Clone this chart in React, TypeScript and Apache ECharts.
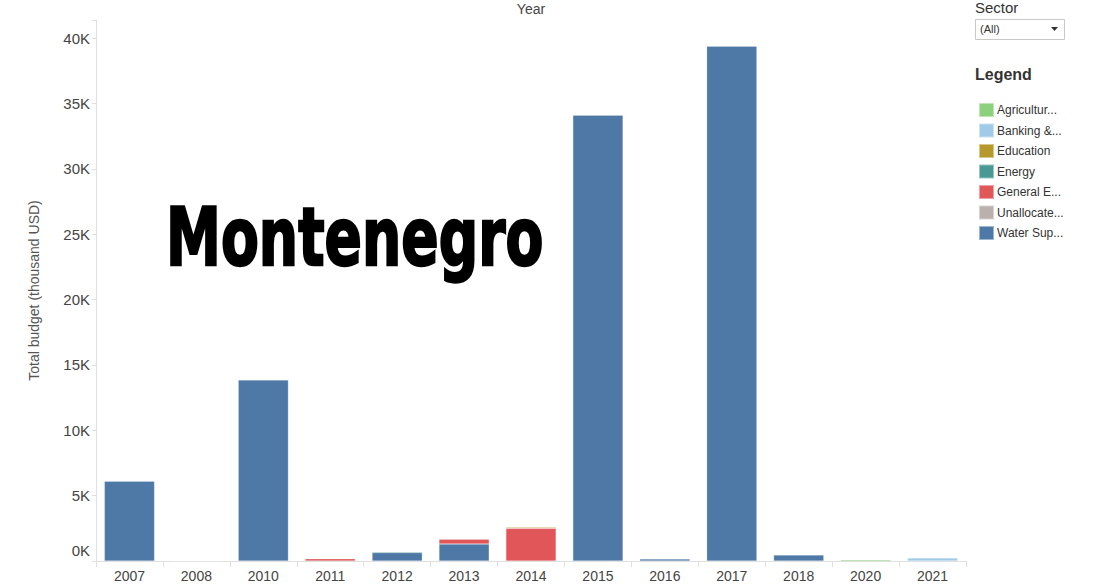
import React, { useEffect, useRef } from "react";
import * as echarts from "echarts";

const years = ["2007", "2008", "2010", "2011", "2012", "2013", "2014", "2015", "2016", "2017", "2018", "2020", "2021"];
const sectors = [
  "Agriculture, Forestry, Fishing",
  "Banking & Financial Services",
  "Education",
  "Energy",
  "General Environment Protection",
  "Unallocated / Unspecified",
  "Water Supply & Sanitation",
];
const sectorLabels = ["Agricultur...", "Banking &...", "Education", "Energy", "General E...", "Unallocate...", "Water Sup..."];
const sectorColors = ["#8CD17D", "#A0CBE8", "#B6992D", "#499894", "#E15759", "#BAB0AC", "#4E79A7"];

const agriculture = [0, 0, 0, 0, 0, 0, 0, 0, 0, 0, 0, 100, 0];
const banking = [0, 0, 0, 0, 0, 0, 0, 0, 0, 0, 0, 0, 230];
const education = [0, 0, 0, 0, 0, 0, 80, 0, 0, 0, 0, 0, 0];
const energy = [0, 0, 0, 0, 70, 0, 0, 0, 0, 0, 0, 0, 0];
const generalEnv = [0, 0, 0, 170, 0, 360, 2500, 0, 0, 0, 0, 0, 0];
const unallocated = [0, 5, 0, 0, 0, 0, 0, 0, 0, 0, 0, 0, 0];
const waterSupply = [6100, 0, 13850, 0, 640, 1300, 0, 34120, 160, 39400, 460, 0, 0];

const seriesValues = [agriculture, banking, education, energy, generalEnv, unallocated, waterSupply];

export default function App() {
  const ref = useRef<HTMLDivElement>(null);
  useEffect(() => {
    if (!ref.current) return;
    const chart = echarts.init(ref.current, undefined, { renderer: "svg" });
    // stacking order: Water at bottom, Agriculture on top
    const order = [6, 5, 4, 3, 2, 1, 0];
    const series = order.map((i) => ({
      name: sectors[i],
      type: "bar",
      stack: "total",
      barWidth: "75%",
      data: seriesValues[i].map((v) => (v === 0 ? null : v)),
      itemStyle: { color: sectorColors[i], borderColor: "rgba(255,255,255,0.45)", borderWidth: 0.5 },
    }));
    chart.setOption({
      animation: false,
      textStyle: { fontFamily: "Arial, 'Liberation Sans', sans-serif" },
      grid: { left: 96, right: 136, top: 20, bottom: 27, outerBoundsMode: "none", containLabel: false },
      legend: {
        data: sectors,
        orient: "vertical",
        left: 973,
        top: 97,
        itemWidth: 15,
        itemHeight: 14,
        itemGap: 4.5,
        icon: "rect",
        formatter: (name: string) => sectorLabels[sectors.indexOf(name)],
        textStyle: { fontSize: 12, color: "#333", padding: [0, 0, 0, -2] },
        selectedMode: false,
      },
      xAxis: {
        type: "category",
        data: years,
        position: "bottom",
        axisLine: { lineStyle: { color: "#e0e0e0" } },
        axisTick: { show: true, length: 6, lineStyle: { color: "#e0e0e0" } },
        axisLabel: { fontSize: 14, color: "#444", margin: 8 },
      },
      yAxis: {
        type: "value",
        min: 0,
        max: 41400,
        interval: 5000,
        name: "Total budget (thousand USD)",
        nameLocation: "middle",
        nameGap: 55,
        nameTextStyle: { fontSize: 14, color: "#555" },
        splitLine: { show: false },
        axisLine: { show: true, lineStyle: { color: "#e0e0e0" } },
        axisTick: { show: true, length: 4, lineStyle: { color: "#e0e0e0" } },
        axisLabel: {
          fontSize: 15,
          color: "#444",
          margin: 6,
          formatter: (v: number) => {
            if (v % 5000 !== 0) return "";
            if (v === 0) return "{z|0K}";
            return v / 1000 + "K";
          },
          rich: { z: { fontSize: 15, color: "#444", padding: [0, 0, 21, 0] } },
        },
      },
      graphic: [
        { type: "text", x: 531, y: 2, style: { text: "Year", font: "14px Arial, 'Liberation Sans', sans-serif", fill: "#444", textAlign: "center" } },
        { type: "text", x: 975, y: 0, style: { text: "Sector", font: "15px Arial, 'Liberation Sans', sans-serif", fill: "#333" } },
        { type: "rect", shape: { x: 975.5, y: 19.5, width: 89, height: 20 }, style: { fill: "#fff", stroke: "#c8c8c8", lineWidth: 1 } },
        { type: "text", x: 980, y: 23, style: { text: "(All)", font: "11px Arial, 'Liberation Sans', sans-serif", fill: "#333" } },
        { type: "polygon", shape: { points: [[1051, 27], [1058, 27], [1054.5, 31]] }, style: { fill: "#333" } },
        { type: "text", x: 975, y: 66, style: { text: "Legend", font: "bold 16px Arial, 'Liberation Sans', sans-serif", fill: "#333" } },
        {
          type: "text",
          x: 166,
          y: 197,
          scaleX: 0.69,
          z: 100,
          style: { text: "Montenegro", font: "bold 80px 'DejaVu Sans', sans-serif", fill: "#000", stroke: "#000", lineWidth: 2.5 },
        },
      ],
      series,
    });
    return () => chart.dispose();
  }, []);
  return <div ref={ref} style={{ width: 1102, height: 588, position: "absolute", left: 0, top: 0 }} />;
}
